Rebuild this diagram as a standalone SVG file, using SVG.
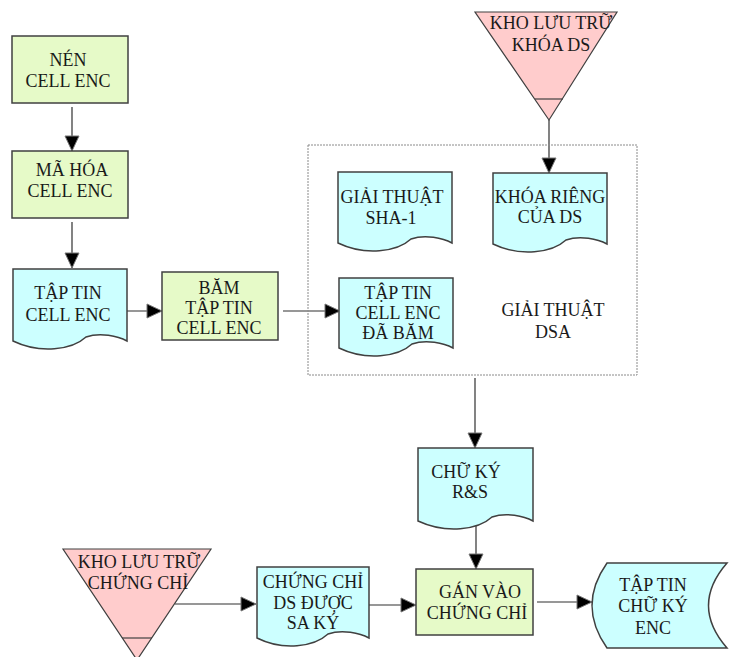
<svg xmlns="http://www.w3.org/2000/svg" width="731" height="657" viewBox="0 0 731 657">
  <defs>
    <style>
      .proc { fill: #e6fac8; stroke: #404040; stroke-width: 1.5; }
      .doc { fill: #ccffff; stroke: #404040; stroke-width: 1.5; }
      .store { fill: #ffcccc; stroke: #404040; stroke-width: 1.2; }
      .group { fill: none; stroke: #8a8a8a; stroke-width: 1; stroke-dasharray: 2 1; }
      .edge { fill: none; stroke: #303030; stroke-width: 1.2; }
      text { font-size: 18px; fill: #1a1a1a; text-anchor: middle; }
    </style>
    <marker id="arrow" markerUnits="userSpaceOnUse" markerWidth="17" markerHeight="17" viewBox="0 0 17 17" refX="16" refY="8.5" orient="auto">
      <path d="M1,1.5 L16,8.5 L1,15.5 Z" fill="#000" stroke="#777" stroke-width="1"/>
    </marker>
  </defs>

  <!-- connectors -->
  <g id="connectors">
    <line class="edge" x1="72" y1="107" x2="72" y2="151" marker-end="url(#arrow)"/>
    <line class="edge" x1="72" y1="222" x2="72" y2="268" marker-end="url(#arrow)"/>
    <line class="edge" x1="127" y1="311" x2="162" y2="311" marker-end="url(#arrow)"/>
    <line class="edge" x1="283" y1="311" x2="340" y2="311" marker-end="url(#arrow)"/>
    <line class="edge" x1="549" y1="120" x2="549" y2="173" marker-end="url(#arrow)"/>
    <line class="edge" x1="475" y1="378" x2="475" y2="448" marker-end="url(#arrow)"/>
    <line class="edge" x1="476" y1="522" x2="476" y2="569" marker-end="url(#arrow)"/>
    <line class="edge" x1="175" y1="604" x2="256" y2="604" marker-end="url(#arrow)"/>
    <line class="edge" x1="369" y1="605" x2="416" y2="605" marker-end="url(#arrow)"/>
    <line class="edge" x1="537" y1="602" x2="592" y2="602" marker-end="url(#arrow)"/>
  </g>

  <g font-family="'Liberation Serif', 'DejaVu Serif', 'Times New Roman', serif">
  <!-- compress -->
  <g id="nen-cell-enc">
    <rect class="proc" x="12" y="36" width="116" height="67"/>
    <text x="68" y="66">NÉN</text>
    <text x="68" y="87">CELL ENC</text>
  </g>

  <!-- encrypt -->
  <g id="ma-hoa-cell-enc">
    <rect class="proc" x="12" y="151" width="116" height="67"/>
    <text x="72" y="176">MÃ HÓA</text>
    <text x="70" y="197">CELL ENC</text>
  </g>

  <!-- encrypted file -->
  <g id="tap-tin-cell-enc">
    <path class="doc" d="M13,269 H127 V341 C118,336 100,332 86,337 C72,350 40,354 13,341 Z"/>
    <text x="68" y="299">TẬP TIN</text>
    <text x="68" y="321">CELL ENC</text>
  </g>

  <!-- hash step -->
  <g id="bam-tap-tin">
    <rect class="proc" x="162" y="272" width="116" height="68"/>
    <text x="219" y="294">BĂM</text>
    <text x="219" y="314">TẬP TIN</text>
    <text x="219" y="334">CELL ENC</text>
  </g>

  <!-- DSA algorithm container -->
  <g id="giai-thuat-dsa">
    <rect class="group" x="308" y="145" width="329" height="230"/>
    <text x="553" y="316">GIẢI THUẬT</text>
    <text x="553" y="338">DSA</text>
  </g>

  <g id="giai-thuat-sha1">
    <path class="doc" d="M338,172 H452 V243 C443,238 425,234 411,239 C397,252 365,256 338,243 Z"/>
    <text x="392" y="203">GIẢI THUẬT</text>
    <text x="391" y="224">SHA-1</text>
  </g>

  <g id="khoa-rieng">
    <path class="doc" d="M493,173 H607 V244 C598,239 580,235 566,240 C552,253 520,257 493,244 Z"/>
    <text x="550" y="203">KHÓA RIÊNG</text>
    <text x="550" y="223">CỦA DS</text>
  </g>

  <g id="tap-tin-da-bam">
    <path class="doc" d="M339,278 H453 V348 C444,343 426,339 412,344 C398,357 366,361 339,348 Z"/>
    <text x="398" y="299">TẬP TIN</text>
    <text x="398" y="319">CELL ENC</text>
    <text x="398" y="339">ĐÃ BĂM</text>
  </g>

  <!-- key store -->
  <g id="kho-khoa-ds">
    <path class="store" d="M475,12 H617 L549,120 Z"/>
    <line class="store" x1="535" y1="99" x2="563" y2="99"/>
    <text x="551" y="29">KHO LƯU TRỮ</text>
    <text x="551" y="51">KHÓA DS</text>
  </g>

  <!-- signature -->
  <g id="chu-ky-rs">
    <path class="doc" d="M418,448 H533 V521 C524,516 506,512 492,517 C478,530 446,534 418,521 Z"/>
    <text x="466" y="478">CHỮ KÝ</text>
    <text x="470" y="498">R&amp;S</text>
  </g>

  <!-- certificate store -->
  <g id="kho-chung-chi">
    <path class="store" d="M63,549 H211 L137,660 Z"/>
    <line class="store" x1="122" y1="638" x2="152" y2="638"/>
    <text x="139" y="568">KHO LƯU TRỮ</text>
    <text x="138" y="589">CHỨNG CHỈ</text>
  </g>

  <g id="chung-chi-ds">
    <path class="doc" d="M257,567 H369 V638 C360,633 342,629 328,634 C314,647 283,651 257,638 Z"/>
    <text x="313" y="588">CHỨNG CHỈ</text>
    <text x="313" y="609">DS ĐƯỢC</text>
    <text x="313" y="629">SA KÝ</text>
  </g>

  <!-- attach to certificate -->
  <g id="gan-vao-chung-chi">
    <rect class="proc" x="416" y="569" width="117" height="66"/>
    <text x="480" y="598">GÁN VÀO</text>
    <text x="477" y="619">CHỨNG CHỈ</text>
  </g>

  <!-- output file -->
  <g id="tap-tin-chu-ky-enc">
    <path class="doc" d="M607,563 H727 Q690,605.5 727,648 H607 Q577,605.5 607,563 Z"/>
    <text x="653" y="591">TẬP TIN</text>
    <text x="653" y="612">CHỮ KÝ</text>
    <text x="653" y="634">ENC</text>
  </g>
  </g>
</svg>
